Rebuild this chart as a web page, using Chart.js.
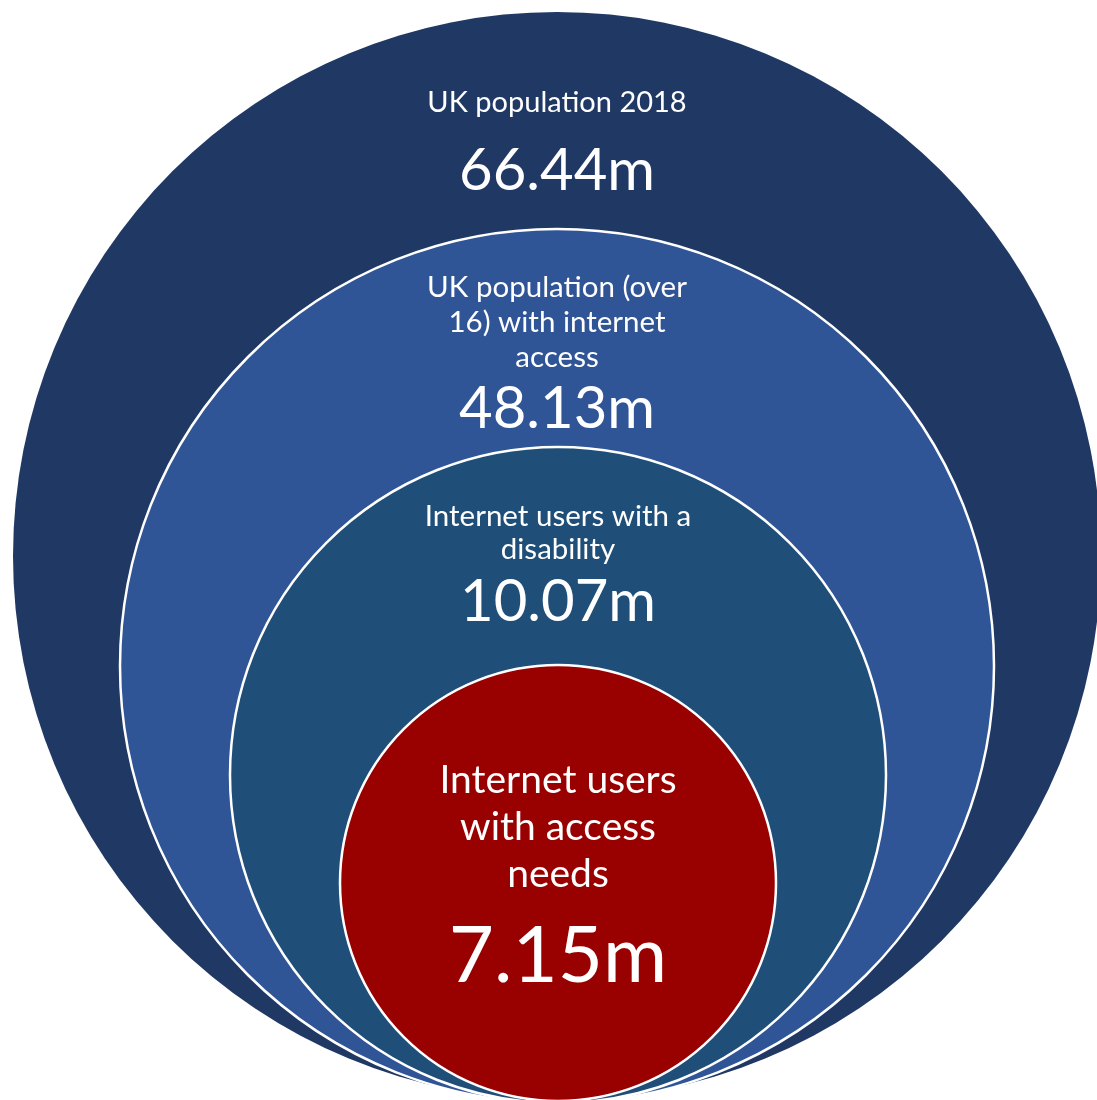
<!DOCTYPE html>
<html>
<head>
<meta charset="utf-8">
<script src="https://cdn.jsdelivr.net/npm/chart.js@4.4.1/dist/chart.umd.min.js"></script>
<style>
  html, body { margin: 0; padding: 0; background: #ffffff; }
  #wrap { width: 1097px; height: 1100px; position: relative; }
</style>
</head>
<body>
<div id="wrap"><canvas id="c" width="1097" height="1100"></canvas></div>
<script>
// ---- data ----
const categories = [
  ["UK population 2018"],
  ["UK population (over", "16) with internet", "access"],
  ["Internet users with a", "disability"],
  ["Internet users", "with access", "needs"]
];
const values = [66.44, 48.13, 10.07, 7.15];
const valueLabels = ["66.44m", "48.13m", "10.07m", "7.15m"];

// ---- layout (chart-space units) ----
const circleX = [557, 557, 558, 558];
const circleY = [556, 666, 775, 883];
const circleR = [544, 437, 328, 218];
const fills = ["#203864", "#2F5597", "#1F4E79", "#990000"];
const borders = [0, 2.5, 2.5, 2.5];

const labelFont = [29, 29.5, 29.5, 39];
const valueFont = [58, 58, 58, 78];
const labelBaselines = [[112], [297, 332, 367], [526, 559], [793, 840, 887]];
const valueBaselines = [190, 428, 621, 982];

function radiusPx(chart, i) {
  const s = chart.scales && chart.scales.x;
  if (!s || i === undefined) return 0;
  const r = Math.abs(s.getPixelForValue(circleR[i]) - s.getPixelForValue(0));
  return isFinite(r) ? r : 0;
}

const textPlugin = {
  id: 'circleText',
  afterDatasetsDraw(chart) {
    const ctx = chart.ctx;
    const xs = chart.scales.x, ys = chart.scales.y;
    ctx.save();
    ctx.fillStyle = '#ffffff';
    ctx.textAlign = 'center';
    ctx.textBaseline = 'alphabetic';
    categories.forEach((lines, i) => {
      const cx = xs.getPixelForValue(circleX[i]);
      ctx.font = labelFont[i] + 'px Lato';
      lines.forEach((ln, j) => {
        ctx.fillText(ln, cx, ys.getPixelForValue(labelBaselines[i][j]));
      });
      ctx.font = valueFont[i] + 'px Lato';
      ctx.fillText(valueLabels[i], cx, ys.getPixelForValue(valueBaselines[i]));
    });
    ctx.restore();
  }
};

new Chart(document.getElementById('c'), {
  type: 'scatter',
  data: {
    datasets: [{
      label: 'population',
      data: values.map((v, i) => ({ x: circleX[i], y: circleY[i], v: v })),
      backgroundColor: fills,
      borderColor: '#ffffff',
      pointBorderWidth: borders,
      pointRadius: (c) => radiusPx(c.chart, c.dataIndex),
      pointHoverRadius: 0,
      clip: false
    }]
  },
  options: {
    responsive: false,
    animation: false,
    events: [],
    layout: { padding: 0 },
    scales: {
      x: { type: 'linear', min: 0, max: 1097, display: false },
      y: { type: 'linear', min: 0, max: 1100, reverse: true, display: false }
    },
    plugins: { legend: { display: false }, tooltip: { enabled: false } }
  },
  plugins: [textPlugin]
});
</script>
</body>
</html>
